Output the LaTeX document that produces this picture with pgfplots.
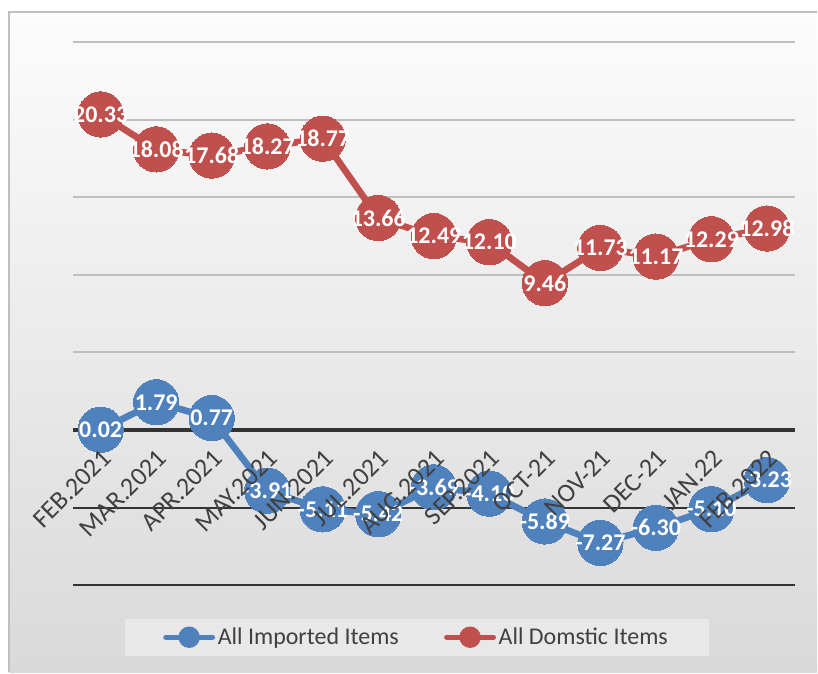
\documentclass[border=0pt]{standalone}
\usepackage{pgfplots}
\pgfplotsset{compat=1.18}
\usepackage{fontspec}
\setmainfont{Carlito}
\definecolor{impblue}{HTML}{4F81BD}
\definecolor{domred}{HTML}{C0504D}
\definecolor{txtgray}{HTML}{404040}
\definecolor{gridlight}{HTML}{BFBFBF}
\definecolor{legfill}{HTML}{E8E8E8}
\definecolor{bgtop}{HTML}{FCFCFC}
\definecolor{bgbot}{HTML}{D9D9D9}
\definecolor{framec}{HTML}{BFBFBF}
\definecolor{darkline}{HTML}{333333}

\pgfplotstableread{
x y lab
0 0.02 0.02
1 1.79 1.79
2 0.77 0.77
3 -3.91 -3.91
4 -5.11 -5.11
5 -5.42 -5.42
6 -3.69 -3.69
7 -4.10 -4.10
8 -5.89 -5.89
9 -7.27 -7.27
10 -6.30 -6.30
11 -5.10 -5.10
12 -3.23 -3.23
}\imported

\pgfplotstableread{
x y lab
0 20.33 20.33
1 18.08 18.08
2 17.68 17.68
3 18.27 18.27
4 18.77 18.77
5 13.66 13.66
6 12.49 12.49
7 12.10 12.10
8 9.46 9.46
9 11.73 11.73
10 11.17 11.17
11 12.29 12.29
12 12.98 12.98
}\domestic

\pgfplotsset{
  common/.style={
    scale only axis, width=542pt, height=408pt,
    xmin=-0.5, xmax=12.5, ymin=-10, ymax=25,
    clip=false,
    axis line style={draw=none}, major tick length=0pt,
    xtick={0,...,12},
  },
}

\begin{document}
\begin{tikzpicture}
\fill[white] (-54.75pt,-65.25pt) rectangle (558.75pt,439.5pt);
\shade[top color=bgtop, bottom color=bgbot] (-48pt,-65.25pt) rectangle (558.75pt,430.5pt);
\draw[color=framec, line width=1.5pt] (558.75pt,430.5pt) -- (-48pt,430.5pt) -- (-48pt,-65.25pt);
\begin{axis}[
  common,
  xticklabels={},
  ytick={5,10,...,25}, yticklabels={},
  ymajorgrids, grid style={color=gridlight, line width=1.5pt},
  legend style={at={(0.4765,-0.0956)}, anchor=center, fill=legfill, draw=none,
    font=\fontsize{18}{21.6}\selectfont, text=txtgray, inner xsep=29pt, inner ysep=5pt,
    /tikz/every even column/.append style={column sep=32pt}},
  legend columns=2,
  legend image code/.code={\draw[line width=4pt, line cap=round, mark=none] (0pt,0pt) -- (35pt,0pt); \fill (17.5pt,0pt) circle (5.5pt);},
  nodes near coords align={anchor=center},
  every node near coord/.append style={anchor=center, text=white, font=\bfseries\fontsize{18}{20}\selectfont},
]
\addplot[color=darkline, line width=1.8pt, forget plot, mark=none] coordinates {(-0.5,-10) (12.5,-10)};
\addplot[color=darkline, line width=1.5pt, forget plot, mark=none] coordinates {(-0.5,-5) (12.5,-5)};
\addplot[color=darkline, line width=3pt, forget plot, mark=none] coordinates {(-0.5,0) (12.5,0)};
\addplot[color=impblue, line width=5pt, mark=*, mark size=17pt, mark options={fill=impblue, draw=impblue, line width=0pt},
  point meta=explicit symbolic, nodes near coords] table[x=x, y=y, meta=lab] {\imported};
\addlegendentry{All Imported Items}
\addplot[color=domred, line width=5pt, mark=*, mark size=17pt, mark options={fill=domred, draw=domred, line width=0pt},
  point meta=explicit symbolic, nodes near coords] table[x=x, y=y, meta=lab] {\domestic};
\addlegendentry{All Domstic Items}
\end{axis}
\begin{axis}[
  common,
  ytick=\empty,
  xticklabels={FEB.2021,MAR.2021,APR.2021,MAY.2021,JUN.2021,JUL.2021,AUG.2021,SEP.2021,OCT-21,NOV-21,DEC-21,JAN.22,FEB.2022},
  xticklabel style={xshift=7pt, rotate=45, anchor=east, font=\fontsize{19.5}{21}\selectfont, text=txtgray},
  xticklabel shift=-101pt,
]
\end{axis}
\end{tikzpicture}
\end{document}
